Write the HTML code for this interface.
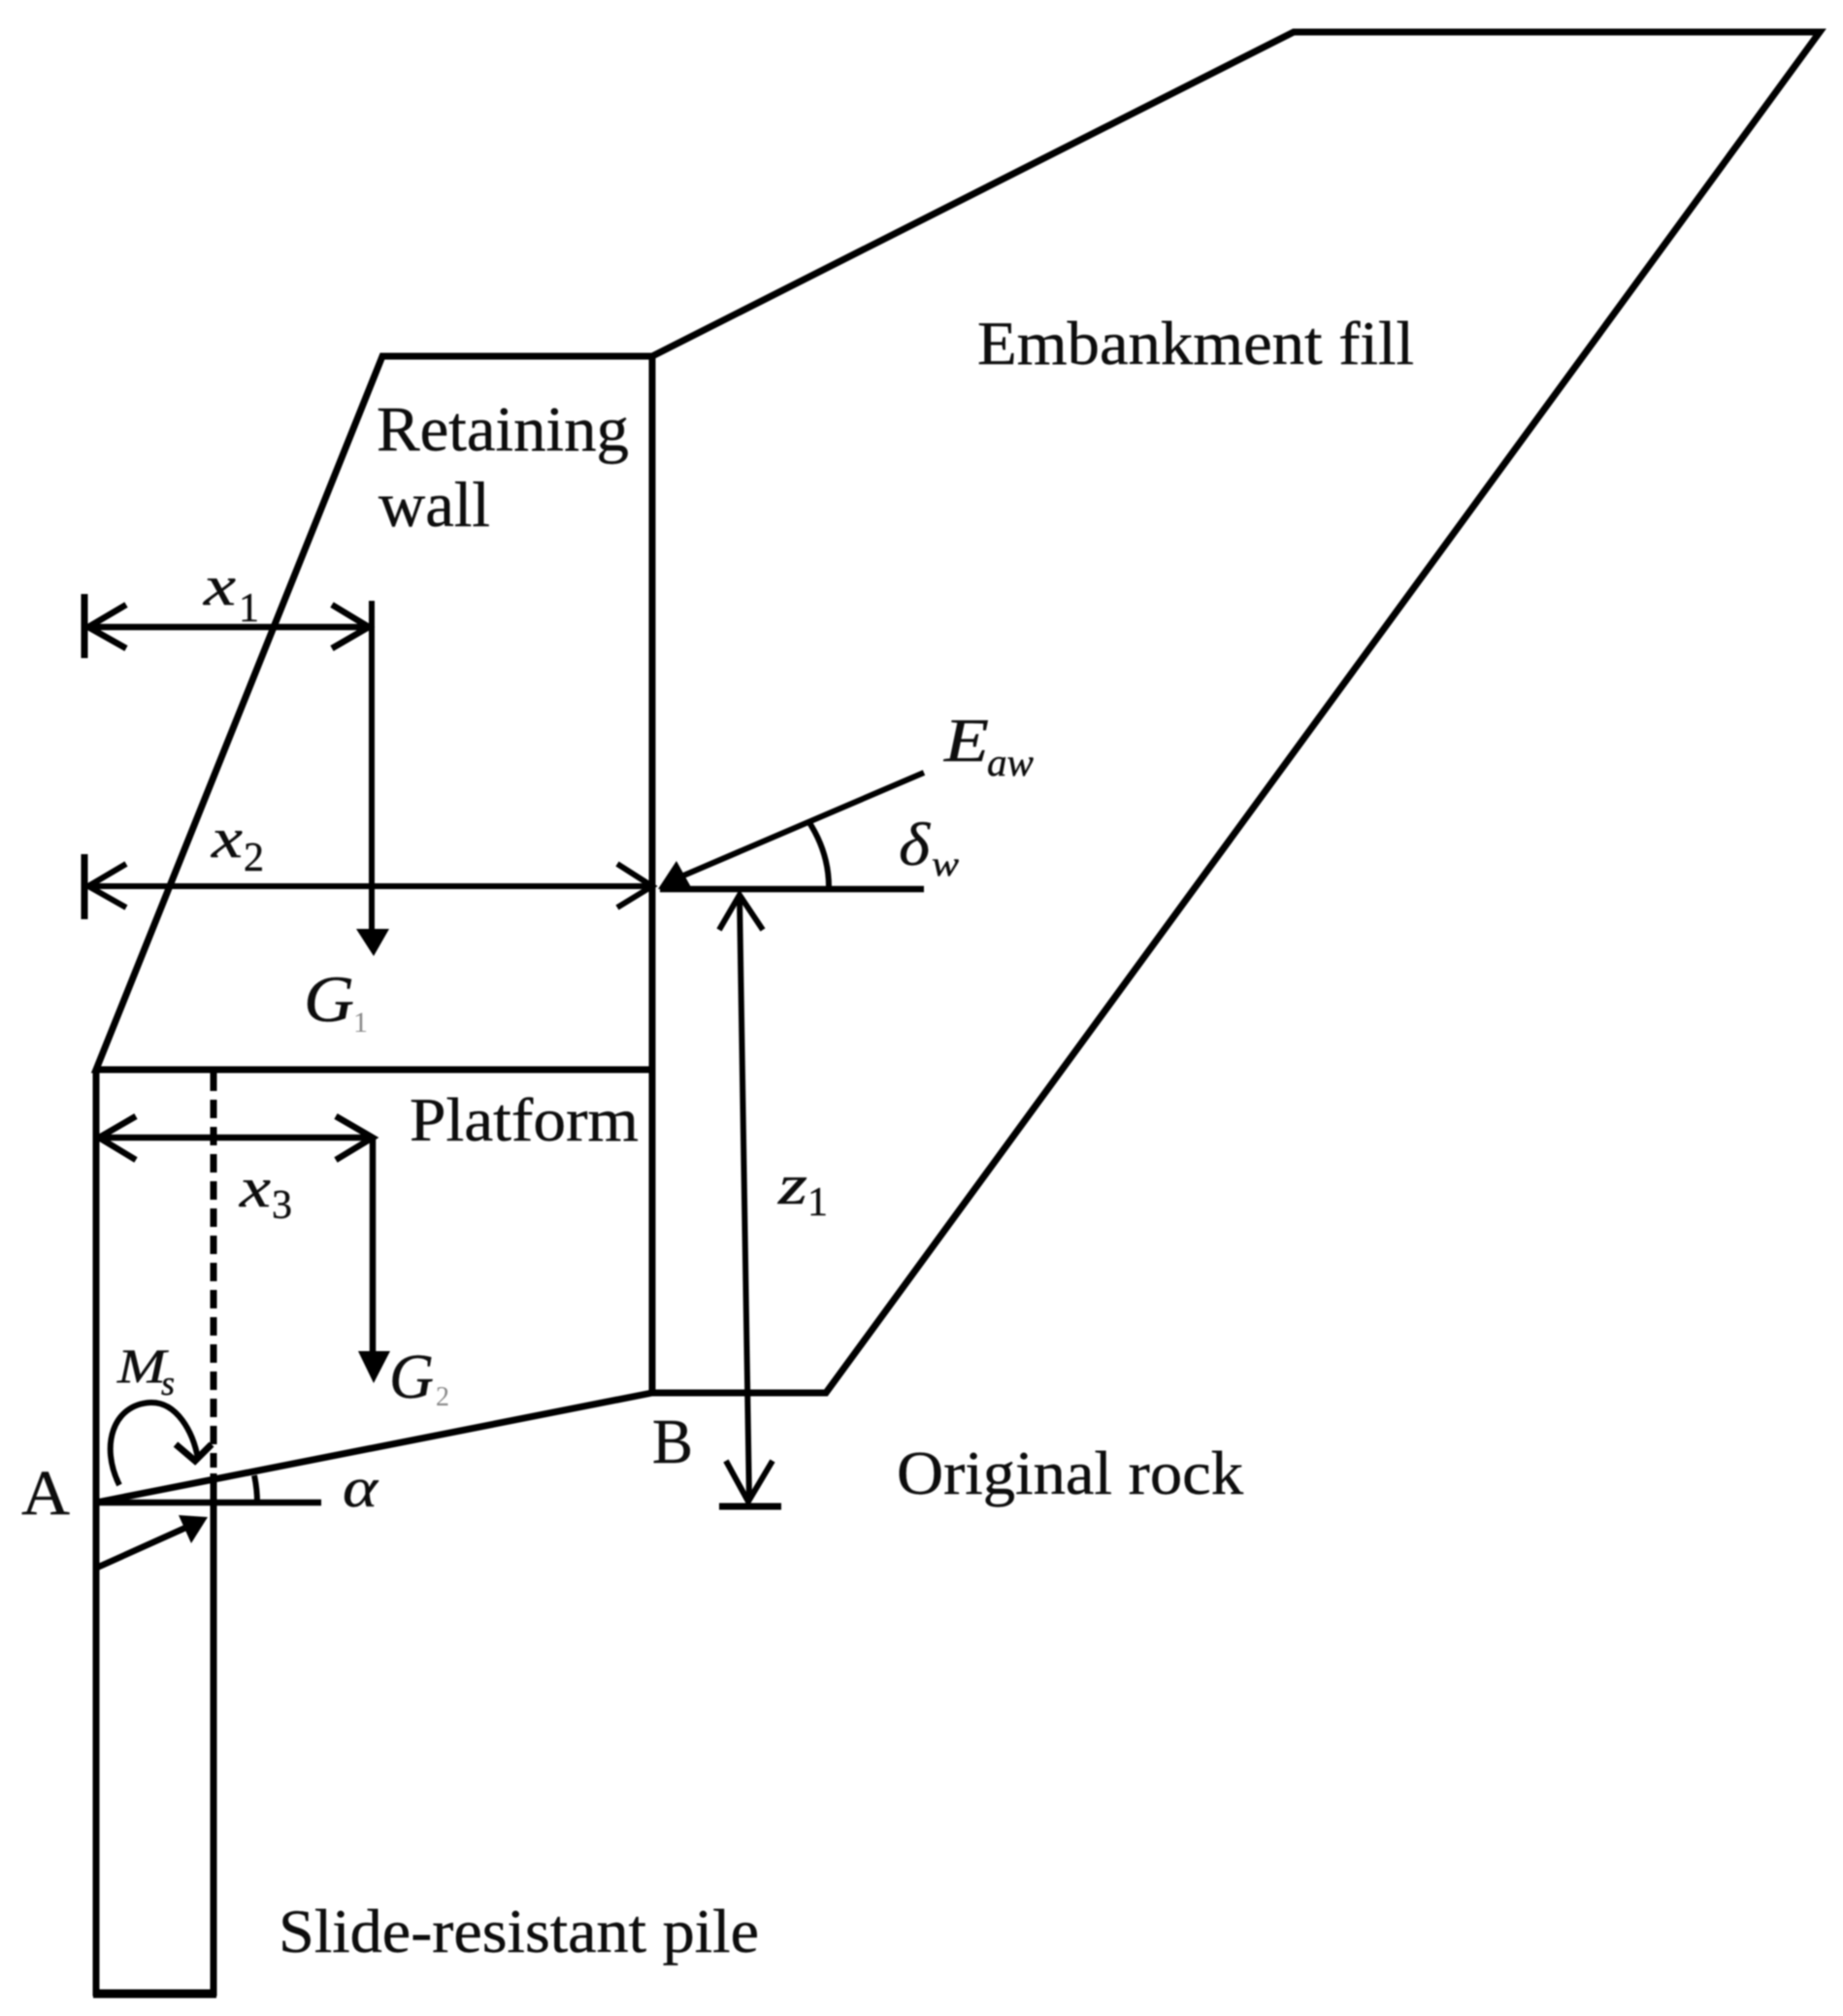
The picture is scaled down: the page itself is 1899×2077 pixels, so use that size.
<!DOCTYPE html>
<html><head><meta charset="utf-8"><style>
html,body{margin:0;padding:0;background:#fff}
svg{display:block}
text{font-family:"Liberation Serif","DejaVu Serif",serif;fill:#111;stroke:#111;stroke-width:.4}
.i{font-style:italic}
.g{fill:#888;stroke:none}
</style></head><body>
<svg width="1899" height="2077" viewBox="0 0 1899 2077" xmlns="http://www.w3.org/2000/svg">
<defs><filter id="b" x="-5%" y="-5%" width="110%" height="110%"><feGaussianBlur stdDeviation="0.8"/></filter></defs>
<g filter="url(#b)">
<g fill="none" stroke="#000" stroke-width="7" stroke-linejoin="miter">
<path d="M672 1435V367L1333 33H1875L851 1435H672"/>
<path d="M672 367H394L99 1102H672"/>
<path d="M99 1102V2053H220V1518"/>
<path d="M96 2054H223" stroke-width="9"/>
<path d="M220 1105V1512" stroke-dasharray="19 9"/>
<path d="M99 1548L672 1435"/>
<path d="M99 1548H331" stroke-width="6.5"/>
<path d="M262 1520Q265 1534 265 1548" stroke-width="6"/>
</g>
<g fill="none" stroke="#000" stroke-width="6">
<path d="M87 612V678" stroke-width="7"/>
<path d="M90 646H380M130 623L91 646L130 668M342 623L380 646L342 668" stroke-width="6.5"/>
<path d="M383 619V957"/>
<path d="M87 880V947" stroke-width="7"/>
<path d="M90 913H672M130 890L91 913L130 935M636 890L672 913L636 935"/>
<path d="M102 1172H383M140 1150L102 1172L140 1195M346 1150L384 1172L346 1195" stroke-width="6.5"/>
<path d="M384 1172V1395" stroke-width="6.5"/>
<path d="M952 796L695 906"/>
<path d="M680 916H952" stroke-width="6.5"/>
<path d="M833 846Q854 878 854 914"/>
<path d="M762 922L772 1546M741 958L762 922L786 958"/>
<path d="M748 1505L771 1547L796 1505"/>
<path d="M741 1552H805" stroke-width="7"/>
<path d="M123 1530C103 1490 116 1447 155 1445C182 1444 199 1475 204 1503" stroke-width="6"/>
<path d="M181 1488L201 1505L218 1488" stroke-width="7"/>
<path d="M100 1615L200 1570" stroke-width="6.5"/>
</g>
<g fill="#000">
<polygon points="367,957 401,957 385,985"/>
<polygon points="369,1392 402,1392 385,1425"/>
<polygon points="678,916 697,887 712,914"/>
<polygon points="214,1563 184,1561 197,1590"/>
</g>
<text x="1007" y="375" font-size="64" textLength="450" lengthAdjust="spacingAndGlyphs">Embankment fill</text>
<text x="388" y="464" font-size="66" textLength="260" lengthAdjust="spacingAndGlyphs">Retaining</text>
<text x="390" y="542" font-size="66" textLength="115" lengthAdjust="spacingAndGlyphs">wall</text>
<text x="422" y="1175" font-size="64" textLength="236" lengthAdjust="spacingAndGlyphs">Platform</text>
<text x="924" y="1539" font-size="64" textLength="357" lengthAdjust="spacingAndGlyphs">Original rock</text>
<text x="287" y="2011" font-size="64" textLength="495" lengthAdjust="spacingAndGlyphs">Slide-resistant pile</text>
<text x="22" y="1560" font-size="66" textLength="50" lengthAdjust="spacingAndGlyphs">A</text>
<text x="672" y="1507" font-size="66" textLength="42" lengthAdjust="spacingAndGlyphs">B</text>
<text class="i" x="210" y="623" font-size="58" textLength="33" lengthAdjust="spacingAndGlyphs">x</text>
<text x="246" y="640" font-size="42">1</text>
<text class="i" x="218" y="883" font-size="58" textLength="32" lengthAdjust="spacingAndGlyphs">x</text>
<text x="251" y="897" font-size="42">2</text>
<text class="i" x="247" y="1243" font-size="58" textLength="32" lengthAdjust="spacingAndGlyphs">x</text>
<text x="280" y="1255" font-size="42">3</text>
<text class="i" x="802" y="1240" font-size="58" textLength="30" lengthAdjust="spacingAndGlyphs">z</text>
<text x="832" y="1252" font-size="42">1</text>
<text class="i" x="313" y="1052" font-size="68" textLength="52" lengthAdjust="spacingAndGlyphs">G</text>
<text class="g" x="364" y="1063" font-size="30">1</text>
<text class="i" x="401" y="1440" font-size="66" textLength="46" lengthAdjust="spacingAndGlyphs">G</text>
<text class="g" x="449" y="1448" font-size="28">2</text>
<text class="i" x="121" y="1424" font-size="50" textLength="50" lengthAdjust="spacingAndGlyphs">M</text>
<text class="i" x="166" y="1437" font-size="36">s</text>
<text class="i" x="353" y="1552" font-size="58" textLength="36" lengthAdjust="spacingAndGlyphs">α</text>
<text class="i" x="973" y="784" font-size="64" textLength="46" lengthAdjust="spacingAndGlyphs">E</text>
<text class="i" x="1017" y="799" font-size="40" textLength="48" lengthAdjust="spacingAndGlyphs">aw</text>
<text class="i" x="926" y="891" font-size="62" textLength="32" lengthAdjust="spacingAndGlyphs">δ</text>
<text class="i" x="960" y="902" font-size="36" textLength="28" lengthAdjust="spacingAndGlyphs">w</text>
</g>
</svg>
</body></html>
